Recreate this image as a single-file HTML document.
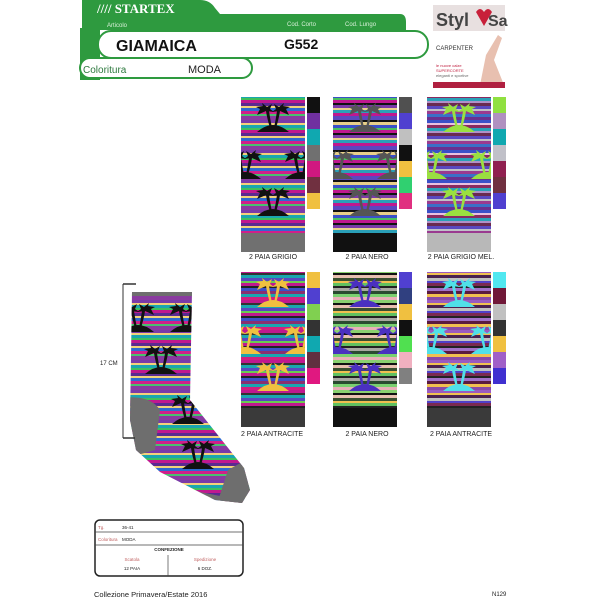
<!DOCTYPE html>
<html><head><meta charset="utf-8"><style>
body{margin:0;background:#fff;width:600px;height:600px;overflow:hidden;font-family:"Liberation Sans",sans-serif}
</style></head><body>
<svg width="600" height="600" viewBox="0 0 600 600" xmlns="http://www.w3.org/2000/svg" font-family="Liberation Sans, sans-serif">
<defs>
<pattern id="s1" width="10" height="30" patternUnits="userSpaceOnUse">
<rect width="10" height="30" fill="#c0188f"/><rect y="0" width="10" height="3" fill="#7a3aa8"/><rect y="3" width="10" height="2" fill="#f2d27a"/><rect y="5" width="10" height="3" fill="#1aa6b0"/><rect y="8" width="10" height="2" fill="#3fbf5a"/><rect y="10" width="10" height="3" fill="#c0188f"/><rect y="13" width="10" height="3" fill="#5a2a90"/><rect y="16" width="10" height="2" fill="#f2d27a"/><rect y="18" width="10" height="3" fill="#2e6ad0"/><rect y="21" width="10" height="3" fill="#d0208a"/><rect y="24" width="10" height="2" fill="#49c070"/><rect y="26" width="10" height="4" fill="#8a3aa0"/>
</pattern>
<pattern id="s2" width="10" height="30" patternUnits="userSpaceOnUse">
<rect width="10" height="30" fill="#b02a90"/><rect y="0" width="10" height="2" fill="#111"/><rect y="2" width="10" height="3" fill="#e8d08a"/><rect y="5" width="10" height="3" fill="#3a50c8"/><rect y="8" width="10" height="2" fill="#4ac060"/><rect y="10" width="10" height="3" fill="#c0188f"/><rect y="13" width="10" height="2" fill="#111"/><rect y="15" width="10" height="3" fill="#7a3aa8"/><rect y="18" width="10" height="2" fill="#e8d08a"/><rect y="20" width="10" height="3" fill="#2aa0b8"/><rect y="23" width="10" height="3" fill="#c0188f"/><rect y="26" width="10" height="4" fill="#5a48c0"/>
</pattern>
<pattern id="s3" width="10" height="30" patternUnits="userSpaceOnUse">
<rect width="10" height="30" fill="#7a3aa0"/><rect y="0" width="10" height="3" fill="#3a50c8"/><rect y="3" width="10" height="2" fill="#e8c0e0"/><rect y="5" width="10" height="3" fill="#8a2a60"/><rect y="8" width="10" height="3" fill="#2aa0b8"/><rect y="11" width="10" height="2" fill="#b090c8"/><rect y="13" width="10" height="3" fill="#6a2a50"/><rect y="16" width="10" height="3" fill="#5a48c0"/><rect y="19" width="10" height="2" fill="#c0c0c8"/><rect y="21" width="10" height="3" fill="#9a3a90"/><rect y="24" width="10" height="3" fill="#3a70c8"/><rect y="27" width="10" height="3" fill="#6a3090"/>
</pattern>
<pattern id="s4" width="10" height="30" patternUnits="userSpaceOnUse">
<rect width="10" height="30" fill="#7a3aa8"/><rect y="0" width="10" height="3" fill="#c0188f"/><rect y="3" width="10" height="2" fill="#333"/><rect y="5" width="10" height="3" fill="#1aa6b0"/><rect y="8" width="10" height="3" fill="#5a48c0"/><rect y="11" width="10" height="2" fill="#6acc50"/><rect y="13" width="10" height="3" fill="#c0188f"/><rect y="16" width="10" height="2" fill="#222"/><rect y="18" width="10" height="3" fill="#3a50c8"/><rect y="21" width="10" height="3" fill="#8a3070"/><rect y="24" width="10" height="3" fill="#1aa6b0"/><rect y="27" width="10" height="3" fill="#d02080"/>
</pattern>
<pattern id="s5" width="10" height="30" patternUnits="userSpaceOnUse">
<rect width="10" height="30" fill="#3a6040"/><rect y="0" width="10" height="3" fill="#8ad070"/><rect y="3" width="10" height="2" fill="#111"/><rect y="5" width="10" height="3" fill="#e8c0b0"/><rect y="8" width="10" height="3" fill="#3a5030"/><rect y="11" width="10" height="2" fill="#f0c050"/><rect y="13" width="10" height="3" fill="#60c060"/><rect y="16" width="10" height="2" fill="#222"/><rect y="18" width="10" height="3" fill="#a8a8a0"/><rect y="21" width="10" height="3" fill="#2a4a30"/><rect y="24" width="10" height="3" fill="#7ad070"/><rect y="27" width="10" height="3" fill="#e8b0b8"/>
</pattern>
<pattern id="s6" width="10" height="30" patternUnits="userSpaceOnUse">
<rect width="10" height="30" fill="#6a2a80"/><rect y="0" width="10" height="3" fill="#9a5ac0"/><rect y="3" width="10" height="2" fill="#f0c050"/><rect y="5" width="10" height="3" fill="#4a2050"/><rect y="8" width="10" height="3" fill="#c0c0c0"/><rect y="11" width="10" height="2" fill="#5040c8"/><rect y="13" width="10" height="3" fill="#7a2a50"/><rect y="16" width="10" height="2" fill="#222"/><rect y="18" width="10" height="3" fill="#a070c8"/><rect y="21" width="10" height="3" fill="#5a1a40"/><rect y="24" width="10" height="3" fill="#f0c050"/><rect y="27" width="10" height="3" fill="#8a4aa8"/>
</pattern>
<g id="palm">
<path d="M-16 14 Q0 0 16 14 Z"/>
<path d="M-3 10 Q-6 0 -7 -7 L-4 -7 Q-3 0 -1 10Z M3 10 Q6 0 7 -7 L4 -7 Q3 0 1 10Z"/>
<path d="M-7 -7 L-16 -3 L-13 -9 L-17 -11 L-10 -12 L-11 -15 L-6 -11 L-1 -14 L-3 -9 L1 -6 Z"/>
<path d="M7 -7 L16 -3 L13 -9 L17 -11 L10 -12 L11 -15 L6 -11 L1 -14 L3 -9 L-1 -6 Z"/>
</g>
<clipPath id="c1"><rect x="241" y="97" width="64" height="155"/></clipPath>
<clipPath id="c2"><rect x="333" y="97" width="64" height="155"/></clipPath>
<clipPath id="c3"><rect x="427" y="97" width="64" height="155"/></clipPath>
<clipPath id="c4"><rect x="241" y="272" width="64" height="155"/></clipPath>
<clipPath id="c5"><rect x="333" y="272" width="64" height="155"/></clipPath>
<clipPath id="c6"><rect x="427" y="272" width="64" height="155"/></clipPath>
<clipPath id="sock"><path d="M132 292 L192 292 L190 400 L244 468 L250 490 L242 503 L215 500 L160 472 L136 450 L130 420 Z"/></clipPath>
</defs>

<!-- Header -->
<path d="M82 0 H200 Q210 0 215 8 L220 14 H400 Q406 14 406 22 V30 H82 Z" fill="#2e9a3f"/>
<rect x="80" y="28" width="20" height="52" fill="#2e9a3f"/>
<rect x="98" y="31" width="330" height="27" rx="13" fill="#fff" stroke="#2e9a3f" stroke-width="2"/>
<rect x="80" y="58" width="172" height="20" rx="10" fill="#fff" stroke="#2e9a3f" stroke-width="2"/>
<text x="97" y="13" font-family="Liberation Serif, serif" font-weight="bold" font-size="13" fill="#fff">//// STARTEX</text>
<text x="107" y="27" font-size="6" fill="#d8f0d8">Articolo</text>
<text x="287" y="26" font-size="6" fill="#d8f0d8">Cod. Corto</text>
<text x="345" y="26" font-size="6" fill="#d8f0d8">Cod. Lungo</text>
<text x="116" y="51" font-weight="bold" font-size="16" fill="#111">GIAMAICA</text>
<text x="284" y="49" font-weight="bold" font-size="14" fill="#111">G552</text>
<text x="83" y="73" font-size="10" fill="#2e7a3f">Coloritura</text>
<text x="188" y="73" font-size="11" fill="#222">MODA</text>

<!-- Stylosa logo -->
<rect x="433" y="5" width="72" height="26" fill="#e8e0e0"/>
<text x="436" y="26" font-weight="bold" font-size="18" fill="#444">Styl</text>
<path d="M476 12 Q480 6 484 12 Q488 6 492 12 L484 26 Z" fill="#c8203a"/>
<text x="488" y="26" font-weight="bold" font-size="16" fill="#444">Sa</text>
<text x="436" y="50" font-size="6" fill="#333">CARPENTER</text>
<text x="436" y="67" font-size="4" fill="#c02040">le nuove calze</text>
<text x="436" y="72" font-size="4" fill="#c02040">SUPERCORTE</text>
<text x="436" y="77" font-size="4" fill="#666">eleganti e sportive</text>
<path d="M486 55 L498 35 L502 38 L494 60 L504 85 L480 85 Z" fill="#e8c0b0"/>
<rect x="433" y="82" width="72" height="6" fill="#b02040"/>

<!-- Panels -->
<g clip-path="url(#c1)"><rect x="241" y="97" width="64" height="155" fill="url(#s1)"/><rect x="241" y="233" width="64" height="19" fill="#707070"/>
<g fill="#111"><use href="#palm" x="273" y="118"/><use href="#palm" x="245" y="165"/><use href="#palm" x="301" y="165"/><use href="#palm" x="273" y="202"/></g></g>
<g clip-path="url(#c2)"><rect x="333" y="97" width="64" height="155" fill="url(#s2)"/><rect x="333" y="233" width="64" height="19" fill="#111"/>
<g fill="#555"><use href="#palm" x="365" y="118"/><use href="#palm" x="337" y="165"/><use href="#palm" x="393" y="165"/><use href="#palm" x="365" y="202"/></g></g>
<g clip-path="url(#c3)"><rect x="427" y="97" width="64" height="155" fill="url(#s3)"/><rect x="427" y="233" width="64" height="19" fill="#b8b8b8"/>
<g fill="#9ae040"><use href="#palm" x="459" y="118"/><use href="#palm" x="431" y="165"/><use href="#palm" x="487" y="165"/><use href="#palm" x="459" y="202"/></g></g>
<g clip-path="url(#c4)"><rect x="241" y="272" width="64" height="155" fill="url(#s4)"/><rect x="241" y="408" width="64" height="19" fill="#3a3a3a"/>
<g fill="#f0c040"><use href="#palm" x="273" y="293"/><use href="#palm" x="245" y="340"/><use href="#palm" x="301" y="340"/><use href="#palm" x="273" y="377"/></g></g>
<g clip-path="url(#c5)"><rect x="333" y="272" width="64" height="155" fill="url(#s5)"/><rect x="333" y="408" width="64" height="19" fill="#111"/>
<g fill="#4a30c0"><use href="#palm" x="365" y="293"/><use href="#palm" x="337" y="340"/><use href="#palm" x="393" y="340"/><use href="#palm" x="365" y="377"/></g></g>
<g clip-path="url(#c6)"><rect x="427" y="272" width="64" height="155" fill="url(#s6)"/><rect x="427" y="408" width="64" height="19" fill="#3a3a3a"/>
<g fill="#50e0e8"><use href="#palm" x="459" y="293"/><use href="#palm" x="431" y="340"/><use href="#palm" x="487" y="340"/><use href="#palm" x="459" y="377"/></g></g>

<!-- Swatches -->
<g>
<rect x="307" y="97" width="13" height="16" fill="#111"/><rect x="307" y="113" width="13" height="16" fill="#7030a0"/><rect x="307" y="129" width="13" height="16" fill="#10a8b0"/><rect x="307" y="145" width="13" height="16" fill="#707070"/><rect x="307" y="161" width="13" height="16" fill="#d01880"/><rect x="307" y="177" width="13" height="16" fill="#703040"/><rect x="307" y="193" width="13" height="16" fill="#f0c040"/>
<rect x="399" y="97" width="13" height="16" fill="#505050"/><rect x="399" y="113" width="13" height="16" fill="#5040d0"/><rect x="399" y="129" width="13" height="16" fill="#c0c0c0"/><rect x="399" y="145" width="13" height="16" fill="#111"/><rect x="399" y="161" width="13" height="16" fill="#f0c040"/><rect x="399" y="177" width="13" height="16" fill="#30d070"/><rect x="399" y="193" width="13" height="16" fill="#e03080"/>
<rect x="493" y="97" width="13" height="16" fill="#90e040"/><rect x="493" y="113" width="13" height="16" fill="#b090c0"/><rect x="493" y="129" width="13" height="16" fill="#10a8b0"/><rect x="493" y="145" width="13" height="16" fill="#c0c0c8"/><rect x="493" y="161" width="13" height="16" fill="#902050"/><rect x="493" y="177" width="13" height="16" fill="#703040"/><rect x="493" y="193" width="13" height="16" fill="#5040d0"/>
<rect x="307" y="272" width="13" height="16" fill="#f0c040"/><rect x="307" y="288" width="13" height="16" fill="#5040d0"/><rect x="307" y="304" width="13" height="16" fill="#80d050"/><rect x="307" y="320" width="13" height="16" fill="#333"/><rect x="307" y="336" width="13" height="16" fill="#10a8b0"/><rect x="307" y="352" width="13" height="16" fill="#603040"/><rect x="307" y="368" width="13" height="16" fill="#e01880"/>
<rect x="399" y="272" width="13" height="16" fill="#5040d0"/><rect x="399" y="288" width="13" height="16" fill="#304080"/><rect x="399" y="304" width="13" height="16" fill="#f0c040"/><rect x="399" y="320" width="13" height="16" fill="#111"/><rect x="399" y="336" width="13" height="16" fill="#50e050"/><rect x="399" y="352" width="13" height="16" fill="#f0b0c0"/><rect x="399" y="368" width="13" height="16" fill="#808080"/>
<rect x="493" y="272" width="13" height="16" fill="#50e8f0"/><rect x="493" y="288" width="13" height="16" fill="#701838"/><rect x="493" y="304" width="13" height="16" fill="#c0c0c0"/><rect x="493" y="320" width="13" height="16" fill="#333"/><rect x="493" y="336" width="13" height="16" fill="#f0c040"/><rect x="493" y="352" width="13" height="16" fill="#a060c8"/><rect x="493" y="368" width="13" height="16" fill="#4030d0"/>
</g>

<g font-size="7" fill="#222" text-anchor="middle">
<text x="273" y="259">2 PAIA GRIGIO</text><text x="367" y="259">2 PAIA NERO</text><text x="461" y="259">2 PAIA GRIGIO MEL.</text>
<text x="272" y="436">2 PAIA ANTRACITE</text><text x="367" y="436">2 PAIA NERO</text><text x="461" y="436">2 PAIA ANTRACITE</text>
</g>

<!-- Sock -->
<g clip-path="url(#sock)">
<rect x="120" y="280" width="140" height="230" fill="url(#s1)"/>
<rect x="120" y="280" width="80" height="16" fill="#6e6e6e"/>
<path d="M120 398 Q150 394 160 410 L155 450 L120 460 Z" fill="#6e6e6e"/>
<path d="M228 470 L260 452 L260 510 L215 510 Z" fill="#6e6e6e"/>
<path d="M120 455 L200 492 L240 500 L260 495 L260 510 L120 510 Z" fill="#6e6e6e"/>
<g fill="#111"><use href="#palm" x="138" y="318"/><use href="#palm" x="186" y="318"/><use href="#palm" x="161" y="360"/><use href="#palm" x="188" y="410"/><use href="#palm" x="198" y="455"/></g>
</g>
<path d="M123 284 V438" stroke="#333" stroke-width="1" fill="none"/>
<path d="M123 284 H136 M123 438 H135" stroke="#333" stroke-width="1.5"/>
<text x="100" y="365" font-size="6" fill="#222">17 CM</text>

<!-- Table -->
<rect x="95" y="520" width="148" height="56" rx="5" fill="#fff" stroke="#222" stroke-width="1.5"/>
<path d="M95 532 H243 M95 545 H243 M168 555 V576" stroke="#444" stroke-width="0.7"/>
<g font-size="4.5">
<text x="98" y="529" fill="#c06060">Tg.</text><text x="122" y="529" fill="#222">36-41</text>
<text x="98" y="541" fill="#c06060">Coloritura</text><text x="122" y="541" fill="#222">MODA</text>
<text x="169" y="551" fill="#222" font-weight="bold" text-anchor="middle">CONFEZIONE</text>
<text x="132" y="561" fill="#c06060" text-anchor="middle">Scatola</text><text x="132" y="570" fill="#222" text-anchor="middle">12 PAIA</text>
<text x="205" y="561" fill="#c06060" text-anchor="middle">Spedizione</text><text x="205" y="570" fill="#222" text-anchor="middle">6 DOZ.</text>
</g>
<text x="94" y="597" font-size="7.5" fill="#222">Collezione Primavera/Estate 2016</text>
<text x="492" y="596" font-size="6" fill="#222">N129</text>
</svg>
</body></html>
